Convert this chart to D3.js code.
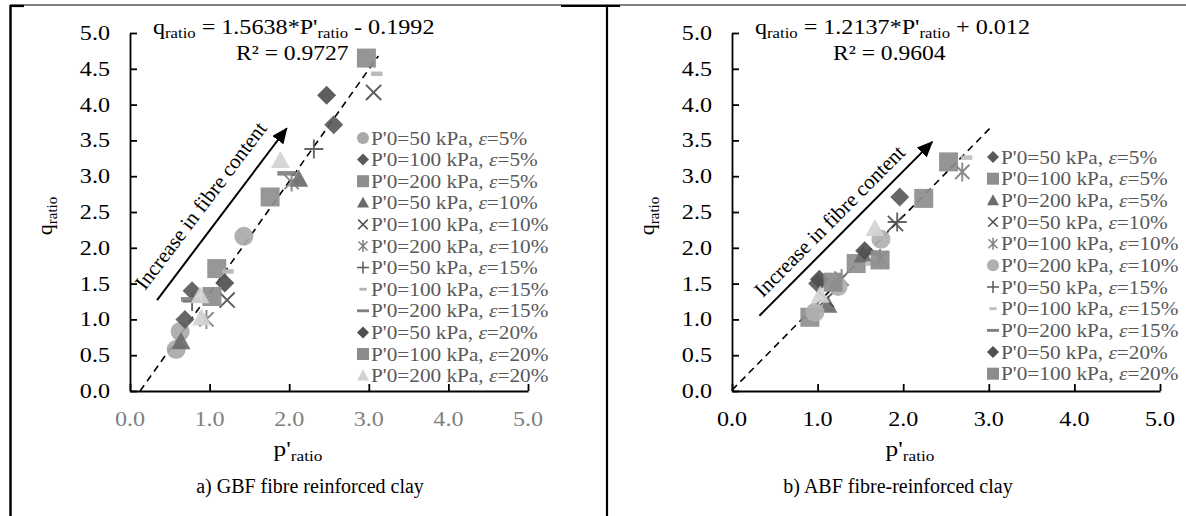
<!DOCTYPE html>
<html><head><meta charset="utf-8">
<script src="https://cdn.jsdelivr.net/npm/d3@7"></script>
<style>body{margin:0;background:#fff} svg{display:block}</style>
</head><body>
<script>
// ------------------ DATA ------------------
const xTickValues = [0, 1, 2, 3, 4, 5];
const yTickValues = [0, 0.5, 1, 1.5, 2, 2.5, 3, 3.5, 4, 4.5, 5];

// GBF (panel a)
const gbfPressure = [50, 100, 200, 50, 100, 200, 50, 100, 200, 50, 100, 200];
const gbfStrain   = [5, 5, 5, 10, 10, 10, 15, 15, 15, 20, 20, 20];
const gbfPoints = [
  [[0.58, 0.58], [0.63, 0.83], [1.43, 2.16]],
  [[0.69, 1.00], [0.78, 1.40], [2.56, 3.72]],
  [[1.09, 1.71], [1.76, 2.71]],
  [[0.64, 0.69], [2.12, 2.96]],
  [[1.22, 1.27], [3.06, 4.17]],
  [[0.96, 1.00], [2.03, 2.92]],
  [[0.78, 1.25], [2.31, 3.38]],
  [[1.23, 1.67], [3.10, 4.43]],
  [[0.76, 1.28], [1.97, 3.04]],
  [[1.19, 1.51], [2.47, 4.13]],
  [[1.03, 1.32], [2.97, 4.65]],
  [[0.90, 1.02], [0.88, 1.33], [1.89, 3.22]]
];
const gbfFit = [1.5638, -0.1992];
const gbfFitRange = [0.127, 3.12];
const gbfArrow = [[0.34, 1.27], [1.97, 3.67]];
const gbfEquation = ["1.5638*P'", " - 0.1992"];
const gbfR2 = "R² = 0.9727";
const gbfTitle = "a) GBF fibre reinforced clay";

// ABF (panel b)
const abfPressure = [50, 100, 200, 50, 100, 200, 50, 100, 200, 50, 100];
const abfStrain   = [5, 5, 5, 10, 10, 10, 15, 15, 15, 20, 20];
const abfPoints = [
  [[1.00, 1.50], [1.96, 2.71]],
  [[0.91, 1.03], [1.45, 1.78], [2.24, 2.69]],
  [[1.12, 1.20], [1.53, 1.90]],
  [[1.10, 1.28], [1.91, 2.34]],
  [[1.28, 1.57], [1.73, 1.85], [2.69, 3.06]],
  [[0.97, 1.10], [1.24, 1.46], [1.74, 2.12]],
  [[1.93, 2.36]],
  [[1.63, 1.78], [2.74, 3.26]],
  [[1.63, 1.93]],
  [[1.02, 1.56], [1.55, 1.96]],
  [[1.18, 1.52], [1.73, 1.83], [2.53, 3.20]],
  [[1.03, 1.34], [1.67, 2.27]]
];
const abfFit = [1.2137, 0.012];
const abfFitRange = [0, 3.02];
const abfArrow = [[0.32, 1.05], [2.34, 3.48]];
const abfEquation = ["1.2137*P'", " + 0.012"];
const abfR2 = "R² = 0.9604";
const abfTitle = "b) ABF fibre-reinforced clay";

const arrowLabel = "Increase in fibre content";

// ------------------ STYLES ------------------
const gbfSymbols = ["circle","diamond","square","triangle","x","star","plus","sdash","ldash","diamond","square","triangle"];
const gbfColors  = ["#a9a9a9","#5a5a5a","#8e8e8e","#6b6b6b","#4d4d4d","#808080","#595959","#b5b5b5","#808080","#4f4f4f","#8c8c8c","#d2d2d2"];
const abfSymbols = ["diamond","square","triangle","x","star","circle","plus","sdash","ldash","diamond","square","triangle"];
const abfColors  = ["#5a5a5a","#8e8e8e","#6b6b6b","#4d4d4d","#808080","#b0b0b0","#595959","#bdbdbd","#808080","#4f4f4f","#8c8c8c","#d2d2d2"];

const FONT = "'Liberation Serif','Times New Roman',Times,serif";
const SX = 1.15;
const W = 1186, H = 516;

const svg = d3.select("body").append("svg").attr("width", W).attr("height", H);

// frame of the table
svg.append("line").attr("x1", 10).attr("x2", W).attr("y1", 5).attr("y2", 5).attr("stroke", "#000").attr("stroke-width", 1.2);
svg.append("line").attr("x1", 10).attr("x2", 24).attr("y1", 6).attr("y2", 6).attr("stroke", "#000").attr("stroke-width", 2.2);
svg.append("line").attr("x1", 561).attr("x2", 620).attr("y1", 6).attr("y2", 6).attr("stroke", "#000").attr("stroke-width", 2.2);
svg.append("line").attr("x1", 10.5).attr("x2", 10.5).attr("y1", 5).attr("y2", H).attr("stroke", "#000").attr("stroke-width", 2.5);
svg.append("line").attr("x1", 607).attr("x2", 607).attr("y1", 5).attr("y2", H).attr("stroke", "#000").attr("stroke-width", 2.2);

const defs = svg.append("defs");
defs.append("marker").attr("id", "arrowhead").attr("markerUnits", "userSpaceOnUse")
  .attr("markerWidth", 16).attr("markerHeight", 14).attr("refX", 15).attr("refY", 7).attr("orient", "auto")
  .append("path").attr("d", "M0,0 L16,7 L0,14 Z").attr("fill", "#000");

function stretchText(parent, x, y, size, anchor, fill, sx = SX) {
  return parent.append("g").attr("transform", `translate(${x},${y}) scale(${sx},1)`)
    .append("text").attr("font-family", FONT).attr("font-size", size)
    .attr("text-anchor", anchor).attr("fill", fill);
}

function drawMarker(g, type, color, s) {
  const h = s / 2;
  switch (type) {
    case "circle": g.append("circle").attr("r", h).attr("fill", color); break;
    case "square": g.append("rect").attr("x", -h).attr("y", -h).attr("width", s).attr("height", s).attr("fill", color); break;
    case "diamond": g.append("path").attr("d", `M0,${-h} L${h},0 L0,${h} L${-h},0 Z`).attr("fill", color); break;
    case "triangle": g.append("path").attr("d", `M0,${-h} L${h},${h*0.8} L${-h},${h*0.8} Z`).attr("fill", color); break;
    case "x": g.append("path").attr("d", `M${-h*0.8},${-h*0.8} L${h*0.8},${h*0.8} M${h*0.8},${-h*0.8} L${-h*0.8},${h*0.8}`).attr("stroke", color).attr("stroke-width", Math.max(1.5, s/10)).attr("fill", "none"); break;
    case "star": g.append("path").attr("d", `M${-h*0.75},${-h*0.75} L${h*0.75},${h*0.75} M${h*0.75},${-h*0.75} L${-h*0.75},${h*0.75} M0,${-h} L0,${h}`).attr("stroke", color).attr("stroke-width", Math.max(1.5, s/10)).attr("fill", "none"); break;
    case "plus": g.append("path").attr("d", `M${-h},0 L${h},0 M0,${-h} L0,${h}`).attr("stroke", color).attr("stroke-width", Math.max(1.5, s/10)).attr("fill", "none"); break;
    case "sdash": g.append("rect").attr("x", -s*0.3).attr("y", -s*0.12).attr("width", s*0.6).attr("height", s*0.24).attr("fill", color); break;
    case "ldash": g.append("rect").attr("x", -h).attr("y", -s*0.12).attr("width", s).attr("height", s*0.24).attr("fill", color); break;
  }
}

const panels = [
  { points: gbfPoints, pressure: gbfPressure, strain: gbfStrain, symbols: gbfSymbols, colors: gbfColors,
    fit: gbfFit, fitRange: gbfFitRange, arrow: gbfArrow, eq: gbfEquation, r2: gbfR2, title: gbfTitle,
    xr: [130, 528], yr: [391, 33], xTickColor: "#808080", legX: 363, legY: 138, legStep: 21.6,
    eqX: 153, r2X: 236, yLabX: 52, xLabX: 298, titleX: 310, labelOff: 15 },
  { points: abfPoints, pressure: abfPressure, strain: abfStrain, symbols: abfSymbols, colors: abfColors,
    fit: abfFit, fitRange: abfFitRange, arrow: abfArrow, eq: abfEquation, r2: abfR2, title: abfTitle,
    xr: [732, 1160], yr: [391, 33], xTickColor: "#000", legX: 993, legY: 157, legStep: 21.67,
    eqX: 755, r2X: 833, yLabX: 654, xLabX: 910, titleX: 898, labelOff: 10 }
];

panels.forEach(p => {
  const x = d3.scaleLinear().domain([0, 5]).range(p.xr);
  const y = d3.scaleLinear().domain([0, 5]).range(p.yr);
  const g = svg.append("g");

  // axes (ticks inward)
  const ax = g.append("g").attr("transform", `translate(0,${p.yr[0]})`)
    .call(d3.axisBottom(x).tickValues(xTickValues).tickSize(-7).tickSizeOuter(0).tickFormat(""));
  const ay = g.append("g").attr("transform", `translate(${p.xr[0]},0)`)
    .call(d3.axisLeft(y).tickValues(yTickValues).tickSize(-7).tickSizeOuter(0).tickFormat(""));
  [ax, ay].forEach(a => { a.selectAll("path,line").attr("stroke", "#000").attr("stroke-width", 1.8); });

  yTickValues.forEach(v => {
    stretchText(g, p.xr[0] - 20, y(v) + 7, 21, "end", "#000").text(d3.format(".1f")(v));
  });
  xTickValues.forEach(v => {
    stretchText(g, x(v), p.yr[0] + 35, 21, "middle", p.xTickColor).text(d3.format(".1f")(v));
  });

  // axis titles
  const yl = g.append("text").attr("transform", `translate(${p.yLabX},216) rotate(-90)`)
    .attr("font-family", FONT).attr("font-size", 22).attr("text-anchor", "middle").attr("fill", "#000");
  yl.append("tspan").text("q");
  yl.append("tspan").attr("font-size", 15).attr("dy", 5).text("ratio");

  const xl = stretchText(g, p.xLabX, 456, 22, "middle", "#000");
  xl.append("tspan").text("p'");
  xl.append("tspan").attr("font-size", 15).attr("dy", 5).text("ratio");

  stretchText(g, p.titleX, 493, 20, "middle", "#000", 1).text(p.title);

  // trendline
  g.append("path")
    .attr("d", d3.line().x(d => x(d)).y(d => y(p.fit[0] * d + p.fit[1]))(p.fitRange))
    .attr("stroke", "#000").attr("stroke-width", 1.6).attr("stroke-dasharray", "7,5").attr("fill", "none");

  // arrow + label
  const a0 = [x(p.arrow[0][0]), y(p.arrow[0][1])], a1 = [x(p.arrow[1][0]), y(p.arrow[1][1])];
  g.append("line").attr("x1", a0[0]).attr("y1", a0[1]).attr("x2", a1[0]).attr("y2", a1[1])
    .attr("stroke", "#000").attr("stroke-width", 2).attr("marker-end", "url(#arrowhead)");
  const ang = Math.atan2(a1[1] - a0[1], a1[0] - a0[0]);
  const len = Math.hypot(a1[0] - a0[0], a1[1] - a0[1]);
  const ux = (a1[0] - a0[0]) / len, uy = (a1[1] - a0[1]) / len;
  const nx = uy, ny = -ux; // perpendicular (up-left)
  const mx = (a0[0] + a1[0]) / 2 - ux * 6 + nx * p.labelOff;
  const my = (a0[1] + a1[1]) / 2 - uy * 6 + ny * p.labelOff;
  g.append("text").attr("transform", `translate(${mx},${my}) rotate(${ang * 180 / Math.PI})`)
    .attr("font-family", FONT).attr("font-size", 21).attr("text-anchor", "middle").attr("fill", "#000")
    .text(arrowLabel);

  // points
  p.points.forEach((ser, i) => {
    ser.forEach(d => {
      const mg = g.append("g").attr("transform", `translate(${x(d[0])},${y(d[1])})`).attr("opacity", 0.92);
      drawMarker(mg, p.symbols[i], p.colors[i], 19);
    });
  });

  // legend
  p.pressure.forEach((pr, i) => {
    const ly = p.legY + i * p.legStep;
    const mg = g.append("g").attr("transform", `translate(${p.legX},${ly})`);
    drawMarker(mg, p.symbols[i], p.colors[i], 12);
    const t = stretchText(g, p.legX + 8, ly + 6.5, 18.5, "start", "#595959");
    t.append("tspan").text(`P'0=${pr} kPa, `);
    t.append("tspan").attr("font-style", "italic").text("ε");
    t.append("tspan").text(`=${p.strain[i]}%`);
  });

  // equation
  const eq = stretchText(g, p.eqX, 34, 21, "start", "#000");
  eq.append("tspan").text("q");
  eq.append("tspan").attr("font-size", 14.5).attr("dy", 4).text("ratio");
  eq.append("tspan").attr("dy", -4).text(" = " + p.eq[0]);
  eq.append("tspan").attr("font-size", 14.5).attr("dy", 4).text("ratio");
  eq.append("tspan").attr("dy", -4).text(p.eq[1]);
  stretchText(g, p.r2X, 60, 20.5, "start", "#000").text(p.r2);
});
</script>
</body></html>
